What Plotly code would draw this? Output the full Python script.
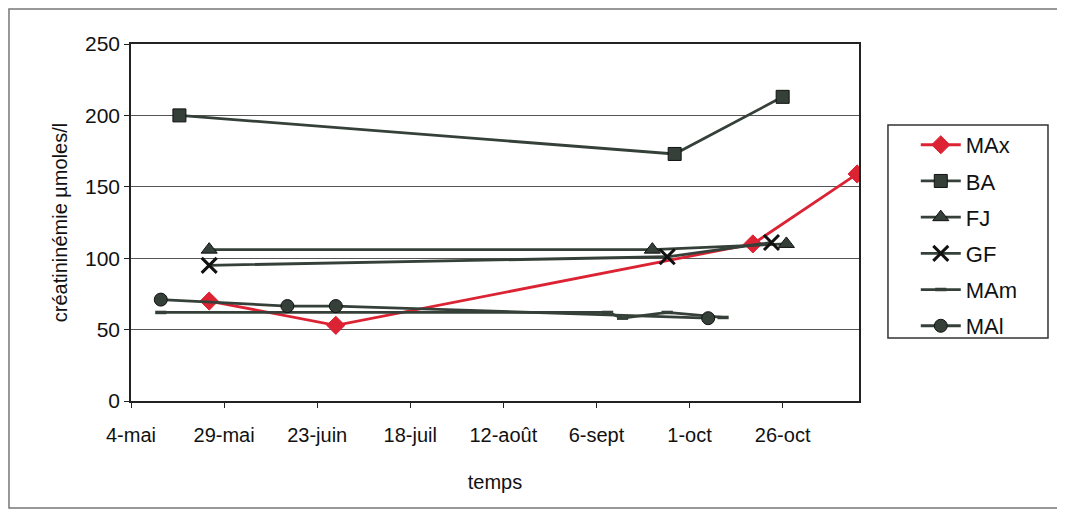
import plotly.graph_objects as go

# ---- data ----
tick_dates = ["2001-05-04", "2001-05-29", "2001-06-23", "2001-07-18",
              "2001-08-12", "2001-09-06", "2001-10-01", "2001-10-26"]
tick_labels = ["4-mai", "29-mai", "23-juin", "18-juil", "12-août", "6-sept", "1-oct", "26-oct"]

max_dates = ["2001-05-25", "2001-06-28", "2001-10-18", "2001-11-15"]
max_vals = [70, 53, 110, 159]

ba_dates = ["2001-05-17", "2001-09-27", "2001-10-26"]
ba_vals = [200, 173, 213]

fj_dates = ["2001-05-25", "2001-09-21", "2001-10-27"]
fj_vals = [106, 106, 110]

gf_dates = ["2001-05-25", "2001-09-25", "2001-10-23"]
gf_vals = [95, 101, 111]

mam_dates = ["2001-05-12", "2001-09-09", "2001-09-13", "2001-09-25", "2001-10-10"]
mam_vals = [62, 62, 58, 62, 58.5]

mal_dates = ["2001-05-12", "2001-06-15", "2001-06-28", "2001-10-06"]
mal_vals = [71, 66.5, 66.5, 58]

RED = "#dc2334"
DARK = "#354039"
FONT = "Liberation Sans, Arial, sans-serif"

fig = go.Figure()

def add(name, x, y, color, symbol, size, mline_color, mline_width=1):
    fig.add_trace(go.Scatter(
        x=x, y=y, name=name, mode="lines+markers", legendgroup=name,
        line=dict(color=color, width=2.8),
        marker=dict(symbol=symbol, size=size, color=color,
                    line=dict(color=mline_color, width=mline_width)),
    ))

add("MAx", max_dates, max_vals, RED, "diamond", 14, RED)
add("BA", ba_dates, ba_vals, DARK, "square", 13, "#111")
add("FJ", fj_dates, fj_vals, DARK, "triangle-up", 14, "#111")
fig.add_trace(go.Scatter(
    x=gf_dates, y=gf_vals, name="GF", mode="lines+markers", legendgroup="GF",
    line=dict(color=DARK, width=2.8),
    marker=dict(symbol="x-thin", size=15, color="#111", line=dict(color="#111", width=3)),
))
fig.add_trace(go.Scatter(
    x=mam_dates, y=mam_vals, name="MAm", mode="lines+markers", legendgroup="MAm",
    line=dict(color=DARK, width=2.8),
    marker=dict(symbol="line-ew", size=8, color=DARK, line=dict(color=DARK, width=3.5)),
))
add("MAl", mal_dates, mal_vals, DARK, "circle", 13, "#111")

fig.update_layout(
    width=1065, height=512,
    margin=dict(l=123, r=214, t=36, b=119),
    paper_bgcolor="white", plot_bgcolor="white",
    font=dict(family=FONT, size=20, color="#111"),
    showlegend=True,
    legend=dict(x=1.078, y=0.776, xanchor="left", yanchor="top",
                borderwidth=0, bgcolor="rgba(0,0,0,0)",
                font=dict(size=22), tracegroupgap=4.6, itemwidth=40),
    xaxis=dict(
        range=["2001-05-04", "2001-11-15 12:00"],
        tickvals=tick_dates, ticktext=tick_labels,
        showgrid=False, showline=True, linecolor="#222", linewidth=1.5,
        mirror=True, ticks="outside", ticklen=5, tickcolor="#222",
        ticklabelstandoff=10,
        title=dict(text="temps", font=dict(size=20), standoff=30),
        tickfont=dict(size=20),
    ),
    yaxis=dict(
        range=[0, 250], tickvals=[0, 50, 100, 150, 200, 250],
        showgrid=True, gridcolor="#555", gridwidth=1,
        showline=True, linecolor="#222", linewidth=1.5, mirror=True,
        ticks="outside", ticklen=5, tickcolor="#222",
        title=dict(text="créatininémie µmoles/l", font=dict(size=20), standoff=12),
        tickfont=dict(size=21),
    ),
    shapes=[
        dict(type="rect", xref="paper", yref="paper",
             x0=-0.1676, x1=1.2761, y0=-0.2997, y1=1.098,
             line=dict(color="#777", width=1.5), layer="below"),
        dict(type="rect", xref="paper", yref="paper",
             x0=1.0398, x1=1.2596, y0=0.1765, y1=0.773,
             line=dict(color="#333", width=1.5), layer="below"),
    ],
)

fig.write_html("out.html")
